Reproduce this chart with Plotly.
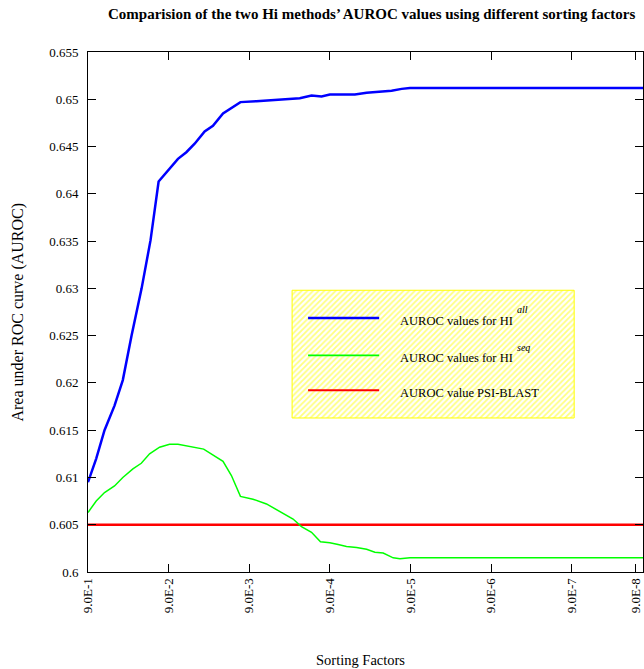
import plotly.graph_objects as go

# Sorting factor position (decades from 9.0E-1) and AUROC values
hi_all_x = [0, 0.102, 0.205, 0.329, 0.432, 0.540, 0.665, 0.776, 0.876, 0.991, 1.116, 1.220,
            1.323, 1.447, 1.550, 1.675, 1.779, 1.891, 2.089, 2.234, 2.379, 2.627, 2.773,
            2.897, 3.0, 3.311, 3.456, 3.766, 3.891, 3.994, 6.885]
hi_all_y = [0.6095, 0.6120, 0.6150, 0.6176, 0.6203, 0.6250, 0.6300, 0.6351, 0.6413, 0.6425,
            0.6437, 0.6444, 0.6453, 0.6466, 0.6472, 0.6485, 0.6491, 0.6497, 0.6498, 0.6499,
            0.6500, 0.6501, 0.6504, 0.6503, 0.6505, 0.6505, 0.6507, 0.6509, 0.6511, 0.6512,
            0.6512]

hi_seq_x = [0, 0.102, 0.205, 0.329, 0.432, 0.557, 0.661, 0.764, 0.888, 1.012, 1.116, 1.302,
            1.435, 1.675, 1.779, 1.891, 2.047, 2.214, 2.379, 2.544, 2.648, 2.773, 2.884, 3.0,
            3.103, 3.207, 3.332, 3.456, 3.559, 3.662, 3.786, 3.870, 3.994, 4.118, 6.885]
hi_seq_y = [0.6063, 0.6075, 0.6084, 0.6091, 0.6100, 0.6109, 0.6115, 0.6125, 0.6132, 0.6135,
            0.6135, 0.6132, 0.6130, 0.6117, 0.6102, 0.6080, 0.6077, 0.6072, 0.6064, 0.6056,
            0.6048, 0.6042, 0.6032, 0.6031, 0.6029, 0.6027, 0.6026, 0.6024, 0.6021, 0.6020,
            0.6015, 0.6014, 0.6015, 0.6015, 0.6015]

psi_x = [0, 6.885]
psi_y = [0.605, 0.605]

x_tickvals = [0, 1, 2, 3, 4, 5, 6, 6.79]
x_ticktext = ["9.0E-1", "9.0E-2", "9.0E-3", "9.0E-4", "9.0E-5", "9.0E-6", "9.0E-7", "9.0E-8"]
y_tickvals = [0.6, 0.605, 0.61, 0.615, 0.62, 0.625, 0.63, 0.635, 0.64, 0.645, 0.65, 0.655]
y_ticktext = ["0.6", "0.605", "0.61", "0.615", "0.62", "0.625", "0.63", "0.635", "0.64",
              "0.645", "0.65", "0.655"]

series_names = ["AUROC values for HI", "AUROC values for HI", "AUROC value PSI-BLAST"]
series_sup = ["all", "seq", ""]
series_colors = ["#0000ff", "#00ff00", "#ff0000"]

FONT = "Liberation Serif"

fig = go.Figure()

# legend box (hatched yellow)
bx0, bx1, by0, by1 = 2.532, 6.031, 0.61629, 0.62980
fig.add_trace(go.Scatter(
    x=[bx0, bx1, bx1, bx0, bx0], y=[by0, by0, by1, by1, by0],
    mode="lines", fill="toself",
    line=dict(color="#ffff00", width=1),
    fillcolor="rgba(0,0,0,0)",
    fillpattern=dict(shape="/", fgcolor="#ffff00", bgcolor="#ffffff", size=4, solidity=0.45),
    hoverinfo="skip", showlegend=False))

fig.add_trace(go.Scatter(x=psi_x, y=psi_y, mode="lines",
                         line=dict(color=series_colors[2], width=2.5), showlegend=False))
fig.add_trace(go.Scatter(x=hi_seq_x, y=hi_seq_y, mode="lines",
                         line=dict(color=series_colors[1], width=1.5), showlegend=False))
fig.add_trace(go.Scatter(x=hi_all_x, y=hi_all_y, mode="lines",
                         line=dict(color=series_colors[0], width=2.5), showlegend=False))

# manual legend entries
leg_y = [0.62687, 0.62292, 0.61922]
leg_w = [2.5, 1.8, 2]
for i in range(3):
    fig.add_shape(type="line", x0=2.730, x1=3.612, y0=leg_y[i], y1=leg_y[i],
                  line=dict(color=series_colors[i], width=leg_w[i]))
    fig.add_annotation(x=3.848, y=leg_y[i], xanchor="left", yanchor="middle", yshift=-3,
                       text=series_names[i], showarrow=False,
                       font=dict(family=FONT, size=12.5, color="black"))
    if series_sup[i]:
        fig.add_annotation(x=5.30, y=leg_y[i], xanchor="left", yanchor="middle", yshift=8,
                           text="<i>" + series_sup[i] + "</i>", showarrow=False,
                           font=dict(family=FONT, size=10, color="black"))

# title and axis titles
fig.add_annotation(xref="paper", yref="paper", x=0.512, y=1.0725, xanchor="center",
                   yanchor="middle", showarrow=False,
                   text="<b>Comparision of the two Hi methods’ AUROC values using different sorting factors</b>",
                   font=dict(family=FONT, size=15, color="black"))
fig.add_annotation(xref="paper", yref="paper", x=0.4917, y=-0.170, xanchor="center",
                   yanchor="middle", showarrow=False, text="Sorting Factors",
                   font=dict(family=FONT, size=14.5, color="black"))
fig.add_annotation(xref="paper", yref="paper", x=-0.127, y=0.5, xanchor="center",
                   yanchor="middle", showarrow=False, textangle=-90,
                   text="Area under ROC curve (AUROC)",
                   font=dict(family=FONT, size=16, color="black"))

fig.update_xaxes(range=[0, 6.885], tickvals=x_tickvals, ticktext=x_ticktext, tickangle=-90,
                 ticks="inside", ticklen=8, tickcolor="black", showline=True,
                 linecolor="black", linewidth=1, mirror="ticks", showgrid=False,
                 zeroline=False, automargin=False, ticklabeloverflow="allow",
                 tickfont=dict(family=FONT, size=13, color="black"))
fig.update_yaxes(range=[0.6, 0.655], tickvals=y_tickvals, ticktext=y_ticktext,
                 ticks="inside", ticklen=8, tickcolor="black", showline=True,
                 linecolor="black", linewidth=1, mirror="ticks", showgrid=False,
                 zeroline=False, ticklabelstandoff=6, automargin=False,
                 ticklabeloverflow="allow",
                 tickfont=dict(family=FONT, size=13, color="black"))

fig.update_layout(width=644, height=669, margin=dict(l=88, r=1, t=52, b=97, autoexpand=False),
                  plot_bgcolor="white", paper_bgcolor="white", showlegend=False,
                  font=dict(family=FONT))

fig.write_html("out.html", config={"displayModeBar": False},
               post_script="document.body.style.margin='0';document.body.style.overflow='hidden';")
